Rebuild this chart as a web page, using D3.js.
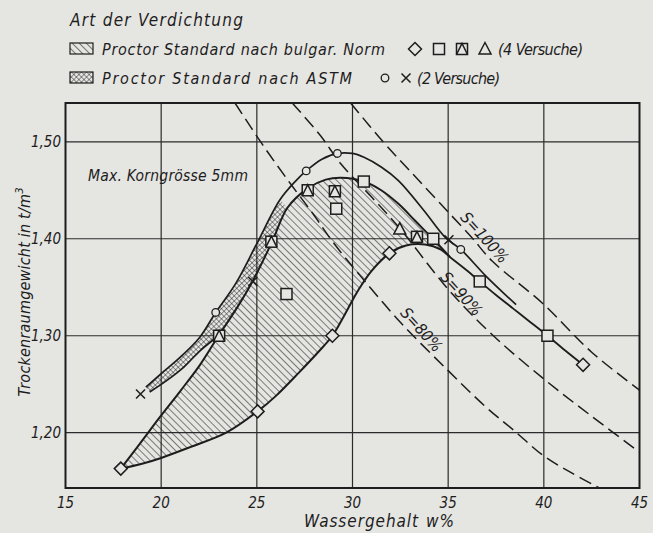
<!DOCTYPE html>
<html>
<head>
<meta charset="utf-8">
<script src="https://cdn.jsdelivr.net/npm/d3@7"></script>
<style>
body{margin:0;background:#e5e5e2;}
svg{display:block;font-family:"DejaVu Sans Condensed","DejaVu Sans",sans-serif;font-style:italic;}
</style>
</head>
<body>
<svg id="chart" width="653" height="533"></svg>
<script>
// axes
const xTicks = [15, 20, 25, 30, 35, 40, 45];
const yTicks = [1.20, 1.30, 1.40, 1.50];
const yTickLabels = ["1,20", "1,30", "1,40", "1,50"];

// measured points (w %, dry density t/m3)
const diamondW = [17.89, 25.04, 28.95, 31.93, 42.05];
const diamondD = [1.163, 1.222, 1.300, 1.385, 1.270];
const squareW = [26.55, 29.15, 30.59, 34.22, 36.65, 40.19];
const squareD = [1.343, 1.431, 1.459, 1.400, 1.356, 1.300];
const sqTriW = [23.03, 25.76, 27.66, 29.08, 33.37];
const sqTriD = [1.300, 1.397, 1.450, 1.449, 1.402];
const triW = [32.47];
const triD = [1.410];
const circleW = [22.85, 27.58, 29.21, 35.66];
const circleD = [1.324, 1.470, 1.488, 1.389];
const crossW = [18.92, 24.79, 35.04];
const crossD = [1.240, 1.356, 1.399];

// bulgarian norm envelope
const bulgUpW = [17.89, 18.9, 19.93, 21.0, 22.03, 23.0, 24.0, 24.8, 25.8, 26.6, 27.66, 28.6, 29.4, 30.6, 31.5, 32.4, 33.3, 34.2, 35.1];
const bulgUpD = [1.163, 1.189, 1.216, 1.243, 1.270, 1.300, 1.330, 1.357, 1.397, 1.432, 1.452, 1.461, 1.463, 1.459, 1.450, 1.436, 1.418, 1.400, 1.381];
const bulgLoW = [17.89, 19.0, 20.0, 21.5, 23.4, 25.04, 26.0, 27.2, 28.2, 28.95, 29.6, 30.3, 31.0, 31.93, 32.8, 33.8, 34.6, 35.1];
const bulgLoD = [1.163, 1.168, 1.174, 1.185, 1.200, 1.222, 1.238, 1.262, 1.283, 1.300, 1.322, 1.347, 1.367, 1.385, 1.393, 1.394, 1.389, 1.381];
const tailW = [35.1, 36.0, 36.65, 37.5, 38.4, 39.3, 40.19, 41.1, 42.05];
const tailD = [1.381, 1.367, 1.356, 1.342, 1.328, 1.314, 1.300, 1.285, 1.270];

// ASTM band
const astmOutW = [19.2, 20.0, 21.0, 22.0, 22.85, 23.9, 25.0, 26.2, 27.0, 27.58, 28.4, 29.21, 30.0, 30.6, 31.5, 32.4, 33.7, 34.87, 35.66, 37.0, 38.55];
const astmOutD = [1.247, 1.261, 1.278, 1.298, 1.324, 1.354, 1.395, 1.440, 1.459, 1.470, 1.482, 1.488, 1.488, 1.484, 1.474, 1.460, 1.430, 1.401, 1.389, 1.361, 1.332];
const astmInW = [19.4, 20.3, 21.2, 22.0, 23.0, 24.0, 24.8, 25.8, 26.6];
const astmInD = [1.242, 1.254, 1.268, 1.284, 1.300, 1.330, 1.357, 1.397, 1.432];

// saturation lines
const s80W = [23.86, 25.3, 26.75, 28.0, 29.0, 30.4, 32.5, 35.0, 37.0, 38.4, 40.0, 41.5, 42.9];
const s80D = [1.540, 1.497, 1.457, 1.424, 1.396, 1.362, 1.314, 1.264, 1.226, 1.203, 1.176, 1.158, 1.143];
const s90W = [26.85, 28.3, 29.4, 31.0, 32.5, 35.0, 37.2, 39.9, 42.5, 45.0];
const s90D = [1.540, 1.507, 1.477, 1.443, 1.410, 1.348, 1.303, 1.257, 1.217, 1.180];
const s100W = [29.9, 31.6, 33.0, 34.6, 36.2, 37.3, 39.9, 42.5, 45.0];
const s100D = [1.540, 1.500, 1.470, 1.436, 1.402, 1.377, 1.334, 1.283, 1.244];
const sLabels = ["S=80%", "S=90%", "S=100%"];
const sLabelW = [33.58, 35.67, 36.88];
const sLabelD = [1.306, 1.343, 1.401];

const ink = "#1d1d1d", paper = "#e5e5e2";
const pts = (ws, ds) => ws.map((w, i) => [w, ds[i]]);

const svg = d3.select("#chart");
const x = d3.scaleLinear().domain([15, 45]).range([65.5, 639.5]);
const y = d3.scaleLinear().domain([1.143, 1.540]).range([488, 103]);
const line = d3.line().x(d => x(d[0])).y(d => y(d[1])).curve(d3.curveCatmullRom);

const defs = svg.append("defs");
defs.append("clipPath").attr("id", "plot").append("rect")
  .attr("x", x(15)).attr("y", y(1.54)).attr("width", x(45) - x(15)).attr("height", y(1.143) - y(1.54));
const hatch = defs.append("pattern").attr("id", "hatch").attr("patternUnits", "userSpaceOnUse")
  .attr("width", 5).attr("height", 5).attr("patternTransform", "rotate(-45)");
hatch.append("line").attr("x1", 0).attr("y1", 0).attr("x2", 0).attr("y2", 5).attr("stroke", ink).attr("stroke-width", 1.1);
const cross = defs.append("pattern").attr("id", "cross").attr("patternUnits", "userSpaceOnUse")
  .attr("width", 3.6).attr("height", 3.6).attr("patternTransform", "rotate(45)");
cross.append("path").attr("d", "M0,0V3.6M0,0H3.6").attr("stroke", ink).attr("stroke-width", 0.9);

// grid
const grid = svg.append("g").attr("stroke", "#2b2b2b").attr("stroke-width", 1.2);
grid.selectAll(".gx").data(xTicks.slice(1, -1)).enter().append("line")
  .attr("x1", d => x(d)).attr("x2", d => x(d)).attr("y1", y(1.54)).attr("y2", y(1.143));
grid.selectAll(".gy").data(yTicks).enter().append("line")
  .attr("y1", d => y(d)).attr("y2", d => y(d)).attr("x1", x(15)).attr("x2", x(45));

// ASTM cross-hatched band
const outer = pts(astmOutW, astmOutD).filter(d => d[0] <= 26.2);
const inner = pts(astmInW, astmInD).reverse();
svg.append("path").attr("d", line(outer) + line(inner).replace("M", "L") + "Z")
  .attr("fill", "url(#cross)").attr("stroke", "none");

// bulgarian hatched area
const up = pts(bulgUpW, bulgUpD);
const lo = pts(bulgLoW, bulgLoD).reverse();
svg.append("path").attr("d", line(up) + line(lo).replace("M", "L") + "Z")
  .attr("fill", "url(#hatch)").attr("stroke", "none");

// saturation lines
const sat = svg.append("g").attr("clip-path", "url(#plot)").attr("fill", "none")
  .attr("stroke", ink).attr("stroke-width", 1.5).attr("stroke-dasharray", "13,6");
[pts(s80W, s80D), pts(s90W, s90D), pts(s100W, s100D)].forEach(p => sat.append("path").attr("d", line(p)));

// curves
const curves = svg.append("g").attr("fill", "none").attr("stroke", ink);
curves.append("path").attr("d", line(up)).attr("stroke-width", 2);
curves.append("path").attr("d", line(pts(bulgLoW, bulgLoD))).attr("stroke-width", 2);
curves.append("path").attr("d", line(pts(tailW, tailD))).attr("stroke-width", 1.8);
curves.append("path").attr("d", line(pts(astmOutW, astmOutD))).attr("stroke-width", 1.7);
curves.append("path").attr("d", line(pts(astmInW, astmInD).filter(d => d[0] <= 23))).attr("stroke-width", 1.7);

// frame
svg.append("rect").attr("x", x(15)).attr("y", y(1.54)).attr("width", x(45) - x(15)).attr("height", y(1.143) - y(1.54))
  .attr("fill", "none").attr("stroke", ink).attr("stroke-width", 2);

// markers
function marker(g, type, cx, cy) {
  const m = g.append("g").attr("fill", paper).attr("stroke", ink).attr("stroke-width", 1.5);
  if (type === "diamond") m.append("path").attr("d", `M${cx},${cy - 6.5}L${cx + 6.5},${cy}L${cx},${cy + 6.5}L${cx - 6.5},${cy}Z`);
  if (type === "square" || type === "sqtri") m.append("rect").attr("x", cx - 5.5).attr("y", cy - 5.5).attr("width", 11).attr("height", 11);
  if (type === "sqtri") m.append("path").attr("d", `M${cx - 5.5},${cy + 5.5}L${cx},${cy - 5.5}L${cx + 5.5},${cy + 5.5}`).attr("fill", "none");
  if (type === "tri") m.append("path").attr("d", `M${cx - 6},${cy + 5}L${cx},${cy - 6.5}L${cx + 6},${cy + 5}Z`);
  if (type === "circle") m.append("circle").attr("cx", cx).attr("cy", cy).attr("r", 3.8).attr("stroke-width", 1.3);
  if (type === "cross") m.append("path").attr("d", `M${cx - 4.5},${cy - 4.5}L${cx + 4.5},${cy + 4.5}M${cx - 4.5},${cy + 4.5}L${cx + 4.5},${cy - 4.5}`);
}
const mk = svg.append("g");
[["diamond", diamondW, diamondD], ["square", squareW, squareD], ["sqtri", sqTriW, sqTriD],
 ["tri", triW, triD], ["circle", circleW, circleD], ["cross", crossW, crossD]]
  .forEach(([t, ws, ds]) => ws.forEach((w, i) => marker(mk, t, x(w), y(ds[i]))));

// tick labels
const txt = svg.append("g").attr("fill", ink);
txt.selectAll(".xl").data(xTicks).enter().append("text")
  .attr("x", d => x(d)).attr("y", 508).attr("text-anchor", "middle").attr("font-size", 15).text(d => d);
txt.selectAll(".yl").data(yTicks).enter().append("text")
  .attr("x", 61).attr("y", d => y(d) + 5.5).attr("text-anchor", "end").attr("font-size", 15)
  .text((d, i) => yTickLabels[i]);

// axis titles
const xt = txt.append("text").attr("x", 304).attr("y", 527).attr("font-size", 17).attr("textLength", 150);
xt.append("tspan").text("Wassergehalt");
xt.append("tspan").attr("dx", 7).text("w%");
const yt = txt.append("text").attr("transform", "translate(30,292) rotate(-90)").attr("text-anchor", "middle")
  .attr("font-size", 16).attr("textLength", 209);
yt.append("tspan").text("Trockenraumgewicht in t/m");
yt.append("tspan").attr("font-size", 11).attr("dy", -7).text("3");

txt.append("text").attr("x", 88).attr("y", 181).attr("font-size", 15.5).attr("textLength", 160).text("Max. Korngrösse 5mm");

// saturation labels
sLabels.forEach((s, i) => {
  txt.append("text").attr("transform", `translate(${x(sLabelW[i])},${y(sLabelD[i])}) rotate(48)`)
    .attr("text-anchor", "middle").attr("dy", 5).attr("font-size", 16).text(s);
});

// legend
txt.append("text").attr("x", 70).attr("y", 26).attr("font-size", 17).attr("textLength", 173).text("Art der Verdichtung");
const lg = svg.append("g");
lg.append("rect").attr("x", 70).attr("y", 43).attr("width", 23).attr("height", 11).attr("fill", "url(#hatch)").attr("stroke", ink).attr("stroke-width", 1.2);
lg.append("rect").attr("x", 70).attr("y", 72).attr("width", 23).attr("height", 11).attr("fill", "url(#cross)").attr("stroke", ink).attr("stroke-width", 1.2);
txt.append("text").attr("x", 102).attr("y", 55).attr("font-size", 16).attr("textLength", 283).text("Proctor Standard nach bulgar. Norm");
txt.append("text").attr("x", 102).attr("y", 84).attr("font-size", 16).attr("textLength", 250).text("Proctor Standard nach ASTM");
txt.append("text").attr("x", 498).attr("y", 55).attr("font-size", 16).attr("textLength", 85).text("(4 Versuche)");
txt.append("text").attr("x", 417).attr("y", 84).attr("font-size", 16).attr("textLength", 83).text("(2 Versuche)");
marker(lg, "diamond", 415, 49);
marker(lg, "square", 439, 49);
marker(lg, "sqtri", 462, 49);
marker(lg, "tri", 485, 49);
marker(lg, "circle", 385, 78);
marker(lg, "cross", 406, 78);
</script>
</body>
</html>
